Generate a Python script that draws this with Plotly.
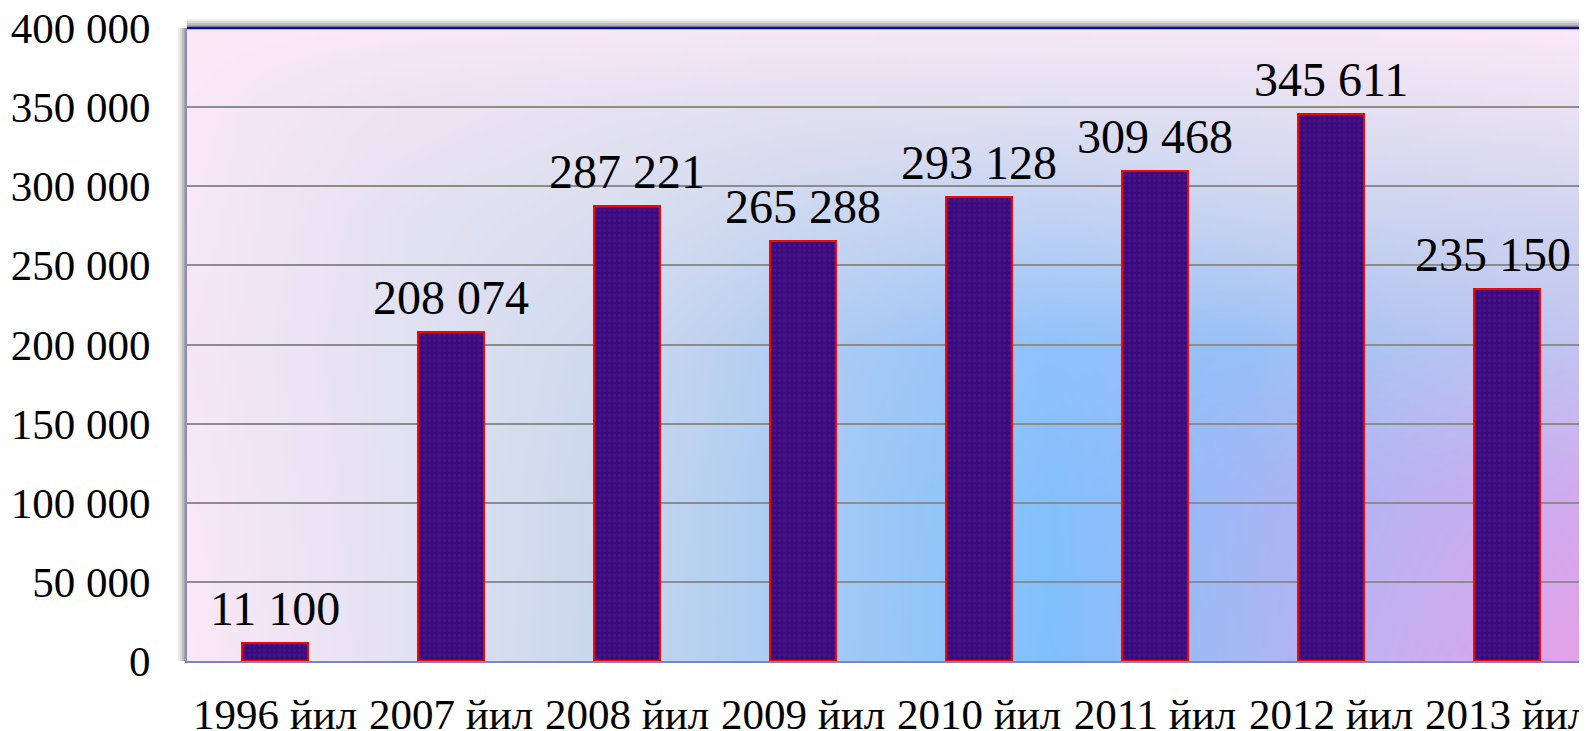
import base64, struct, zlib
import numpy as np
import plotly.graph_objects as go

# ---------------- data ----------------
categories = ["1996 йил", "2007 йил", "2008 йил", "2009 йил",
              "2010 йил", "2011 йил", "2012 йил", "2013 йил"]
values = [11100, 208074, 287221, 265288, 293128, 309468, 345611, 235150]
tick_vals = [0, 50000, 100000, 150000, 200000, 250000, 300000, 350000, 400000]
tick_text = ["0", "50 000", "100 000", "150 000", "200 000",
             "250 000", "300 000", "350 000", "400 000"]
labels = [f"{v:,}".replace(",", " ") for v in values]

# ---------------- layout geometry ----------------
# the page body has an 8px margin, so the figure is offset by (8, 8)
W_PX, H_PX = 1587, 731
L, T, BM = 179, 20, 78          # plot area on page: x 187..1595, y 28..661

# ---------------- background gradient (style only) ----------------
gx = [187, 400, 600, 800, 1050, 1250, 1400, 1595]
gy = [28, 110, 220, 350, 500, 661]
grid = [
    ["fbe9f8", "f9e8f8", "f8e8f8", "f6e8f6", "f6e8f6", "f8e8f8", "f9e8f8", "fbe9f8"],
    ["f9e8f8", "ede4f3", "e6e2f2", "e2e0f0", "e0e0f2", "e2e0f2", "e6e0f2", "eae2f4"],
    ["f8e8f8", "e4e2f2", "dadff0", "ccd8f0", "c0d2f4", "c8d4f0", "ccd4f0", "d0d4f0"],
    ["f6e7f7", "e2e2f2", "cfdaef", "b0ccf2", "90c2fc", "98c0f8", "b0c4f2", "c4c4f0"],
    ["f8e8f8", "e3e2f2", "cbd8ee", "a8ccf4", "84c0fe", "a4b6f6", "bcb2f2", "d4aaee"],
    ["fbe8f8", "e4e2f2", "c8d8ee", "a8ccf4", "80c0ff", "a8b8f4", "c8b0f0", "e8a0e8"],
]
ctrl = np.array([[[int(c[i:i + 2], 16) for i in (0, 2, 4)] for c in row] for row in grid], float)
IW, IH = 352, 160
xs = np.linspace(gx[0], gx[-1], IW)
ys = np.linspace(gy[0], gy[-1], IH)
rows = np.zeros((len(gy), IW, 3))
for r in range(len(gy)):
    for ch in range(3):
        rows[r, :, ch] = np.interp(xs, gx, ctrl[r, :, ch])
img = np.zeros((IH, IW, 3))
for j in range(IW):
    for ch in range(3):
        img[:, j, ch] = np.interp(ys, gy, rows[:, j, ch])
img = np.clip(img, 0, 255).astype(np.uint8)


def to_png(a):
    h, w, _ = a.shape
    raw = b"".join(b"\x00" + a[i].tobytes() for i in range(h))

    def chunk(tag, data):
        return (struct.pack(">I", len(data)) + tag + data +
                struct.pack(">I", zlib.crc32(tag + data) & 0xffffffff))
    return (b"\x89PNG\r\n\x1a\n" +
            chunk(b"IHDR", struct.pack(">IIBBBBB", w, h, 8, 2, 0, 0, 0)) +
            chunk(b"IDAT", zlib.compress(raw, 9)) + chunk(b"IEND", b""))


bg_uri = "data:image/png;base64," + base64.b64encode(to_png(img)).decode()

FONT = "Liberation Serif, Times New Roman, serif"

fig = go.Figure()
fig.add_trace(go.Bar(
    x=categories, y=values, width=0.375,
    marker=dict(color="#3a0b7a", line=dict(color="#ff0000", width=2),
                pattern=dict(shape=".", fgcolor="#52189e", size=5,
                             solidity=0.35, fillmode="overlay")),
    hoverinfo="x+y",
))

for i, (c, v, t) in enumerate(zip(categories, values, labels)):
    fig.add_annotation(x=c, y=v, text=t, showarrow=False, yanchor="bottom",
                       yshift=6, xshift=-14 if i == len(values) - 1 else 0,
                       font=dict(family=FONT, size=48, color="black"))

shapes = []
# shadow left and top of the plot frame
for k, op in enumerate([0.10, 0.14, 0.20, 0.26, 0.34]):
    off = 9 - 2 * k
    shapes.append(dict(type="rect", xref="paper", yref="paper", xsizemode="pixel",
                       xanchor=0, x0=-off, x1=0, y0=0, y1=1,
                       fillcolor=f"rgba(90,90,90,{op})", line=dict(width=0), layer="below"))
    shapes.append(dict(type="rect", xref="paper", yref="paper", ysizemode="pixel",
                       yanchor=1, y0=0, y1=off, x0=0, x1=1,
                       fillcolor=f"rgba(90,90,90,{op})", line=dict(width=0), layer="below"))
# dark blue top border
shapes.append(dict(type="line", xref="paper", yref="paper", x0=0, x1=1, y0=1, y1=1,
                   line=dict(color="#0c0c9a", width=2.5)))

fig.update_layout(
    width=W_PX, height=H_PX,
    margin=dict(l=L, r=0, t=T, b=BM, pad=0, autoexpand=False),
    paper_bgcolor="white", plot_bgcolor="rgba(0,0,0,0)",
    showlegend=False, bargap=0,
    font=dict(family=FONT, size=43, color="black"),
    images=[dict(source=bg_uri, xref="paper", yref="paper", x=0, y=1,
                 sizex=1, sizey=1, xanchor="left", yanchor="top",
                 sizing="stretch", layer="below")],
    shapes=shapes,
    xaxis=dict(range=[-0.5, 7.5], showgrid=False, showline=True, automargin=False,
               linecolor="#7a86c4", linewidth=2, ticks="", ticklabelstandoff=14,
               ticklabeloverflow="allow",
               tickfont=dict(family=FONT, size=43, color="black")),
    yaxis=dict(range=[0, 400000], tickvals=tick_vals, ticktext=tick_text,
               showgrid=True, gridcolor="#8c8c8c", gridwidth=2, automargin=False,
               zeroline=False, showline=True, linecolor="#8c8cc8", linewidth=2,
               ticks="", ticklabelstandoff=26, ticklabeloverflow="allow",
               tickfont=dict(family=FONT, size=43, color="black")),
)

fig.write_html("out.html")
